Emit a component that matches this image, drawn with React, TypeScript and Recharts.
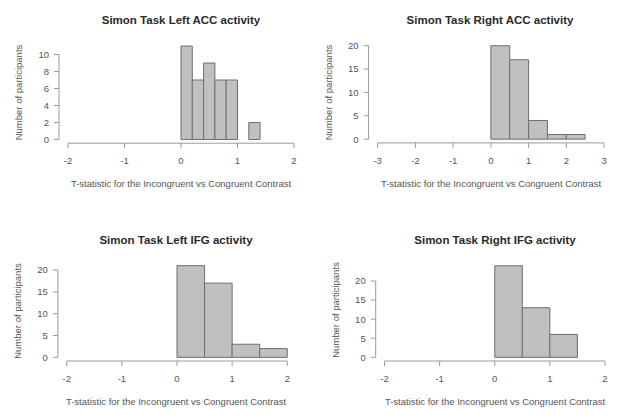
import React from "react";
import { ComposedChart, XAxis, YAxis, ReferenceArea, ReferenceLine } from "recharts";

// ---- data ----
const tlBinStarts = [0, 0.2, 0.4, 0.6, 0.8, 1.0, 1.2];
const tlCounts = [11, 7, 9, 7, 7, 0, 2];
const tlBinWidth = 0.2;

const trBinStarts = [0, 0.5, 1, 1.5, 2];
const trCounts = [20, 17, 4, 1, 1];
const trBinWidth = 0.5;

const blBinStarts = [0, 0.5, 1, 1.5];
const blCounts = [21, 17, 3, 2];
const blBinWidth = 0.5;

const brBinStarts = [0, 0.5, 1];
const brCounts = [24, 13, 6];
const brBinWidth = 0.5;

const xTicks2 = [-2, -1, 0, 1, 2];
const xTicks3 = [-3, -2, -1, 0, 1, 2, 3];
const yTicks10 = [0, 2, 4, 6, 8, 10];
const yTicks20 = [0, 5, 10, 15, 20];

const titles = [
  "Simon Task Left ACC activity",
  "Simon Task Right ACC activity",
  "Simon Task Left IFG activity",
  "Simon Task Right IFG activity",
];
const xLabel = "T-statistic for the Incongruent vs Congruent Contrast";
const yLabel = "Number of participants";

// ---- styling ----
const FONT = "'Liberation Sans', Arial, Helvetica, sans-serif";
const BAR_FILL = "#c0c0c0";
const BAR_STROKE = "#6e6e6e";
const AXIS = "#9a9a9a";
const TEXT = "#555";
const TITLE = "#2a2a2a";

type PanelProps = {
  left: number; top: number; width: number; height: number;
  margin: { top: number; right: number; bottom: number; left: number };
  xDomain: [number, number]; yDomain: [number, number];
  xTicks: number[]; yTicks: number[];
  binStarts: number[]; counts: number[]; binWidth: number;
};

function Panel(p: PanelProps) {
  const data = p.binStarts.map((s, i) => ({ x: s + p.binWidth / 2, count: p.counts[i] }));
  const tickStyle = { fontSize: 9.5, fill: TEXT, fontFamily: FONT };
  return (
    <div style={{ position: "absolute", left: p.left, top: p.top }}>
      <ComposedChart width={p.width} height={p.height} data={data} margin={p.margin}>
        <XAxis
          type="number"
          dataKey="x"
          domain={p.xDomain}
          ticks={p.xTicks}
          allowDataOverflow
          axisLine={false}
          tickLine={{ stroke: AXIS }}
          tickSize={5}
          tickMargin={9}
          tick={tickStyle}
          height={30}
          interval={0}
        />
        <YAxis
          type="number"
          domain={p.yDomain}
          ticks={p.yTicks}
          allowDataOverflow
          axisLine={false}
          tickLine={{ stroke: AXIS }}
          tickSize={5}
          tickMargin={5}
          tick={tickStyle}
          width={30}
          interval={0}
        />
        {p.binStarts.map((s, i) =>
          p.counts[i] > 0 ? (
            <ReferenceArea
              key={i}
              x1={s}
              x2={s + p.binWidth}
              y1={0}
              y2={p.counts[i]}
              fill={BAR_FILL}
              fillOpacity={1}
              stroke={BAR_STROKE}
              strokeWidth={1}
              ifOverflow="visible"
            />
          ) : null
        )}
        <ReferenceLine
          segment={[
            { x: p.xTicks[0], y: p.yDomain[0] },
            { x: p.xTicks[p.xTicks.length - 1], y: p.yDomain[0] },
          ]}
          stroke={AXIS}
          ifOverflow="visible"
        />
        <ReferenceLine
          segment={[
            { x: p.xDomain[0], y: p.yTicks[0] },
            { x: p.xDomain[0], y: p.yTicks[p.yTicks.length - 1] },
          ]}
          stroke={AXIS}
          ifOverflow="visible"
        />
      </ComposedChart>
    </div>
  );
}

const labelPos = [
  { title: [181, 20], xl: [181, 183], yl: [18, 92.5] },
  { title: [490, 20], xl: [491, 183], yl: [328, 92.5] },
  { title: [176, 240], xl: [176, 401.5], yl: [17, 311] },
  { title: [495, 240], xl: [495, 401.5], yl: [335, 310] },
];

export default function App() {
  return (
    <div style={{ position: "absolute", left: 0, top: 0, width: 621, height: 420, background: "#fff", fontFamily: FONT }}>
      <Panel
        left={0} top={0} width={310} height={210}
        margin={{ top: 42.3, right: 7, bottom: 36.8, left: 29 }}
        xDomain={[-2.16, 2.16]} yDomain={[-0.44, 11.44]}
        xTicks={xTicks2} yTicks={yTicks10}
        binStarts={tlBinStarts} counts={tlCounts} binWidth={tlBinWidth}
      />
      <Panel
        left={310} top={0} width={311} height={210}
        margin={{ top: 42, right: 7.9, bottom: 37.1, left: 28.6 }}
        xDomain={[-3.24, 3.24]} yDomain={[-0.8, 20.8]}
        xTicks={xTicks3} yTicks={yTicks20}
        binStarts={trBinStarts} counts={trCounts} binWidth={trBinWidth}
      />
      <Panel
        left={0} top={210} width={310} height={210}
        margin={{ top: 52, right: 13.9, bottom: 29, left: 27.9 }}
        xDomain={[-2.16, 2.16]} yDomain={[-0.84, 21.84]}
        xTicks={xTicks2} yTicks={yTicks20}
        binStarts={blBinStarts} counts={blCounts} binWidth={blBinWidth}
      />
      <Panel
        left={310} top={210} width={311} height={210}
        margin={{ top: 52.1, right: 7.2, bottom: 29, left: 35.7 }}
        xDomain={[-2.16, 2.16]} yDomain={[-0.96, 24.96]}
        xTicks={xTicks2} yTicks={yTicks20}
        binStarts={brBinStarts} counts={brCounts} binWidth={brBinWidth}
      />
      <svg width={621} height={420} style={{ position: "absolute", left: 0, top: 0, pointerEvents: "none" }}>
        {labelPos.map((l, i) => (
          <g key={i} fontFamily={FONT}>
            <text x={l.title[0]} y={l.title[1]} textAnchor="middle" dominantBaseline="central" fontSize={11.5} fontWeight="bold" fill={TITLE}>
              {titles[i]}
            </text>
            <text x={l.xl[0]} y={l.xl[1]} textAnchor="middle" dominantBaseline="central" fontSize={9.5} fill={TEXT}>
              {xLabel}
            </text>
            <text
              x={l.yl[0]} y={l.yl[1]} textAnchor="middle" dominantBaseline="central" fontSize={9.5} fill={TEXT}
              transform={`rotate(-90 ${l.yl[0]} ${l.yl[1]})`}
            >
              {yLabel}
            </text>
          </g>
        ))}
      </svg>
    </div>
  );
}
